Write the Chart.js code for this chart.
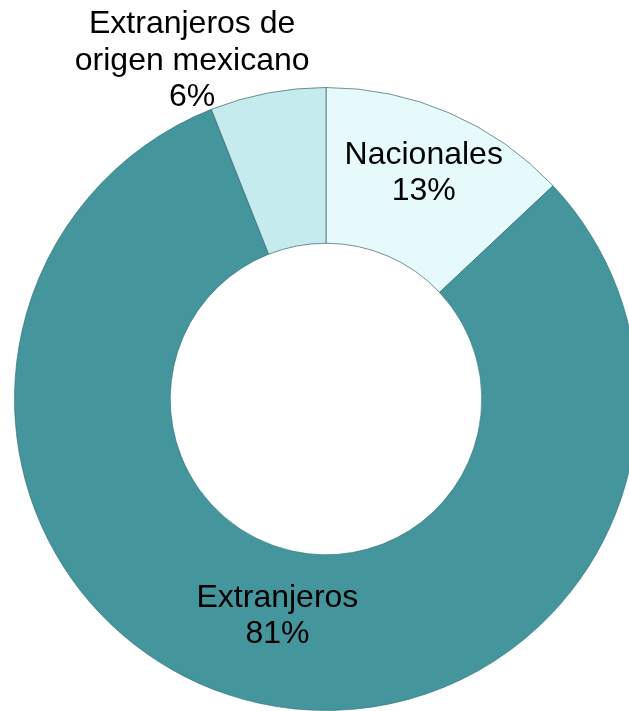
<!DOCTYPE html>
<html>
<head>
<meta charset="utf-8">
<script src="https://cdn.jsdelivr.net/npm/chart.js@4.4.0/dist/chart.umd.min.js"></script>
<style>
  html, body { margin: 0; padding: 0; background: #fff; overflow: hidden; width: 629px; height: 711px; }
  #grafico { position: absolute; left: 0; top: 0; }
</style>
</head>
<body>
<canvas id="grafico" width="652" height="798"></canvas>
<script>
// datos del gráfico
const categorias = [['Nacionales'], ['Extranjeros'], ['Extranjeros de', 'origen mexicano']];
const porcentajes = [13, 81, 6];
const colores = ['#e6fafc', '#44959c', '#c5ebee'];

// posición de las etiquetas: fracción del radio exterior y punto a lo largo del arco
const radioEtiqueta = [0.79, 0.715, 1.167];
const puntoArco = [0.5, 0.5, 0];

const etiquetas = {
    id: 'etiquetas',
    afterDatasetsDraw(chart) {
        const ctx = chart.ctx;
        const arcos = chart.getDatasetMeta(0).data;
        ctx.save();
        ctx.font = '32px "Liberation Sans", Arial, sans-serif';
        ctx.fillStyle = '#000';
        ctx.textAlign = 'center';
        ctx.textBaseline = 'middle';
        arcos.forEach(function(arco, i) {
            const p = arco.getProps(['x', 'y', 'startAngle', 'endAngle', 'outerRadius']);
            const ang = p.startAngle + (p.endAngle - p.startAngle) * puntoArco[i];
            const r = p.outerRadius * radioEtiqueta[i];
            const cx = p.x + Math.cos(ang) * r;
            const cy = p.y + Math.sin(ang) * r;
            const lineas = categorias[i].concat([porcentajes[i] + '%']);
            const alto = 36.5;
            lineas.forEach(function(t, j) {
                ctx.fillText(t, cx, cy + (j - (lineas.length - 1) / 2) * alto);
            });
        });
        ctx.restore();
    }
};

new Chart(document.getElementById('grafico'), {
    type: 'doughnut',
    data: {
        labels: categorias.map(c => c.join(' ')),
        datasets: [{
            data: porcentajes,
            backgroundColor: colores,
            borderColor: ['rgba(60,100,105,0.7)', 'rgba(40,110,115,0.6)', 'rgba(60,100,105,0.7)'],
            borderWidth: 1
        }]
    },
    options: {
        responsive: false,
        devicePixelRatio: 1,
        animation: false,
        cutout: '50%',
        events: [],
        layout: { padding: { left: 14, right: 14, top: 87, bottom: 87 } },
        plugins: {
            legend: { display: false },
            tooltip: { enabled: false }
        }
    },
    plugins: [etiquetas]
});
</script>
</body>
</html>
